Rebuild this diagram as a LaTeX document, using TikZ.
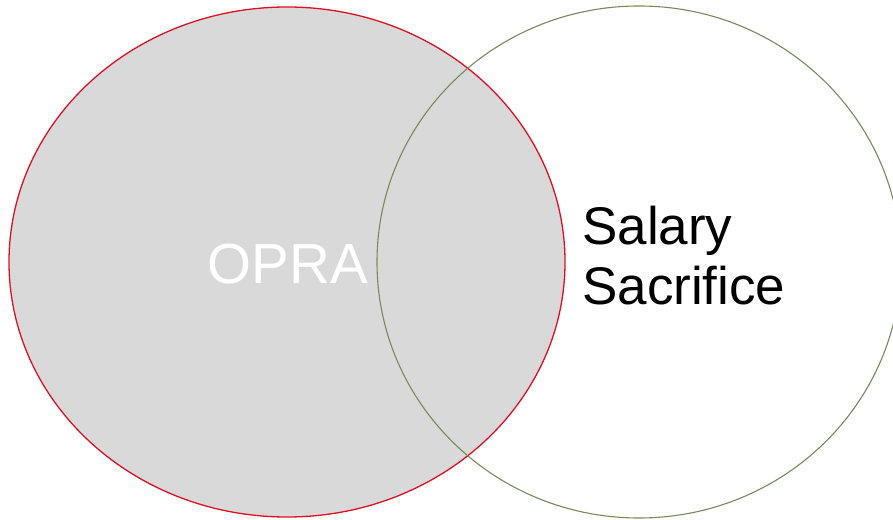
\documentclass[tikz,border=0pt]{standalone}
\usepackage{fontspec}
\setmainfont{Liberation Sans}
\usepackage{xcolor}
\definecolor{oprared}{RGB}{222,16,36}
\definecolor{salgreen}{RGB}{122,136,92}
\definecolor{oprafill}{RGB}{217,217,217}

\begin{document}
\begin{tikzpicture}[x=1pt,y=1pt]
\useasboundingbox (0,0) rectangle (893,519);
\clip (0,0) rectangle (893,519);
%% sets
\filldraw[fill=oprafill, draw=oprared, line width=1.3pt] (287,257) ellipse (278 and 255);
\draw[salgreen, line width=1.1pt] (639,257) ellipse (262 and 256);
%% labels
\node[white, font=\fontsize{56.5}{60}\selectfont, inner sep=0pt] (opra) at (288,255) {OPRA};
\node[black, font=\fontsize{53}{60}\selectfont, inner sep=0pt, anchor=west, align=left] (salsac) at (582,263) {Salary\\Sacrifice};
\end{tikzpicture}
\end{document}
